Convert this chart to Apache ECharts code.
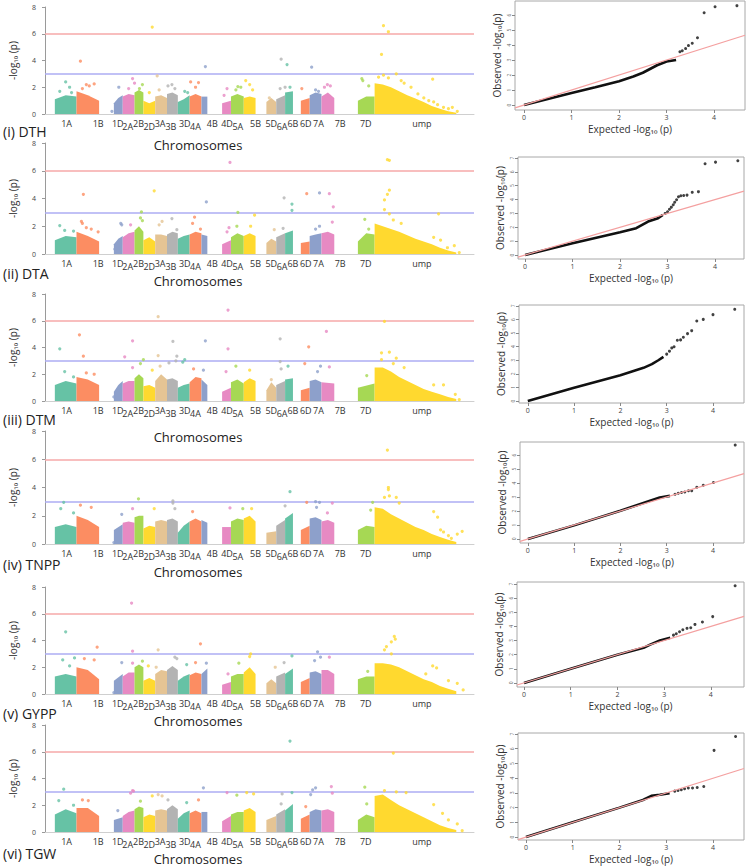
<!DOCTYPE html>
<html><head><meta charset="utf-8">
<script src="https://cdn.jsdelivr.net/npm/echarts@6/dist/echarts.min.js"></script>
<style>html,body{margin:0;padding:0;background:#fff}#c{width:746px;height:867px}</style>
</head><body><div id="c"></div>
<script>
// ---------- shared data ----------
const chromosomes = ['1A','1B','1D','2A','2B','2D','3A','3B','3D','4A','4B','4D','5A','5B','5D','6A','6B','6D','7A','7B','7D','ump'];
const chromStart = [10,32,70,79,91,100,112,124,135,147,159,180,189,202,225,235,244,260,269,281,318,335];
const chromEnd   = [32,55,79,91,100,112,124,135,147,159,165,189,202,214,235,244,252,269,281,294,335,418];
const labelPos   = [22,54,74,84,95,106,117,128,142,153,170,185,196,214,230,241,252,265,278,300,326,383];
const labelLow   = [0,0,0,1,0,1,0,1,0,1,0,0,1,0,0,1,0,0,0,0,0,0];
const yTicksM = [0,2,4,6,8];
const qqXTicks = [0,1,2,3,4];
const qqYTicks = [0,1,2,3,4,5,6,7];
const thresholds = [6,3];
const traitNames = ['(i) DTH','(ii) DTA','(iii) DTM','(iv) TNPP','(v) GYPP','(vi) TGW'];

// ---------- (i) DTH ----------
const DTH_body = [[1.1,1.4,1.3],[1.7,1.4,1.0],[0.8,1.2,1.4],[1.3,1.5,1.4],[1.6,1.8,1.6],[1.0,0.8,1.0],[1.3,1.4,1.2],[1.5,1.6,1.4],[0.9,1.1,1.4],[1.3,1.5,1.3],[1.3,1.3],[0.8,1.0],[1.3,1.5,1.3],[1.2,1.3,1.2],[0.9,1.2,0.9],[1.1,1.4],[1.6,1.7],[1.0,1.2],[1.4,1.6,1.5],[1.3,1.6,1.2],[1.0,1.3,1.3],[2.3,2.2,2.0,1.7,1.4,1.15,0.9,0.6,0.4,0.2,0.1]];
const DTH_points = [[21,2.4],[25,2.0],[15,1.7],[27,1.6],[36,3.95],[42,2.2],[50,2.25],[45,2.1],[38,1.9],[75,2.0],[68,0.2],[89,2.65],[85,1.9],[91,2.3],[99,2.2],[96,1.9],[109,6.5],[106,1.6],[114,2.85],[116,1.8],[129,2.2],[125,2.1],[132,1.9],[142,1.7],[145,1.6],[148,2.4],[156,2.35],[153,2.0],[163,3.55],[185,1.9],[182,1.4],[199,2.0],[194,1.8],[196,2.05],[204,2.5],[208,2.2],[211,1.8],[228,1.2],[240,4.1],[239,1.9],[246,3.7],[244,2.0],[249,2.0],[261,1.9],[271,3.5],[275,1.8],[278,1.7],[287,2.2],[284,2.0],[290,2.1],[322,2.65],[323,2.5],[329,2.1],[344,6.6],[349,6.15],[342,4.45],[357,3.0],[344,2.9],[339,2.75],[349,2.7],[394,2.6],[362,2.5],[365,2.3],[372,2.0],[379,1.5],[385,1.2],[390,1.0],[395,0.9],[399,0.7],[405,0.5],[410,0.4],[414,0.5],[419,0.2]];
const DTH_qqCurve = [[0,0],[0.5,0.4],[1,0.8],[1.5,1.18],[2,1.58],[2.3,1.9],[2.5,2.15],[2.8,2.65],[3.0,2.9],[3.2,3.0]];
const DTH_qqTail = [[3.28,3.55],[3.33,3.62],[3.4,3.76],[3.46,3.96],[3.54,4.12],[3.65,4.48],[3.79,6.15],[4.02,6.55],[4.48,6.62]];

// ---------- (ii) DTA ----------
const DTA_body = [[1.0,1.3,1.2],[1.6,1.3,0.9],[0.7,1.1,1.3],[1.2,1.5,1.6],[1.7,2.0,1.6],[1.0,1.2,0.9],[1.4,1.4,1.3],[1.4,1.6,1.5],[1.1,1.3,1.4],[1.4,1.6,1.5],[1.4,1.3],[0.7,1.0],[1.2,1.5,1.3],[1.3,1.5,1.3],[0.8,1.1,0.9],[1.2,1.5],[1.5,1.7],[0.8,0.9],[1.3,1.4,1.5],[1.5,1.6,1.4],[0.9,1.5,1.4],[2.2,2.0,1.8,1.6,1.35,1.1,0.9,0.7,0.45,0.25,0.1]];
const DTA_points = [[15,2.05],[20,1.7],[29,1.65],[39,4.3],[37,2.35],[38,2.2],[42,1.9],[47,1.8],[54,1.6],[71,0.35],[77,2.2],[78,2.1],[87,2.1],[98,3.03],[97,2.6],[99,2.4],[111,4.55],[119,2.35],[116,2.1],[129,2.55],[134,1.75],[152,2.65],[150,2.2],[158,1.8],[164,3.75],[188,6.6],[187,1.9],[185,1.6],[196,3.0],[195,2.0],[213,2.8],[209,2.0],[233,1.75],[243,4.05],[242,1.85],[251,3.6],[251,3.15],[266,4.35],[279,4.4],[275,1.8],[279,2.0],[289,4.35],[293,3.4],[292,2.3],[325,2.5],[329,1.8],[348,6.8],[350,6.75],[350,4.6],[348,4.3],[345,3.9],[345,3.2],[350,2.9],[400,2.9],[354,2.45],[362,2.2],[395,1.2],[402,1.0],[409,0.45],[416,0.6],[421,0.1]];
const DTA_qqCurve = [[0,0],[1,0.84],[2,1.64],[2.34,1.93],[2.59,2.41],[2.8,2.65],[2.9,2.89]];
const DTA_qqTail = [[2.95,3.0],[3.0,3.12],[3.04,3.3],[3.08,3.45],[3.12,3.62],[3.15,3.8],[3.19,3.98],[3.23,4.2],[3.28,4.27],[3.34,4.29],[3.41,4.32],[3.52,4.52],[3.65,4.57],[3.79,6.58],[4.01,6.7],[4.48,6.8]];

// ---------- (iii) DTM ----------
const DTM_body = [[1.2,1.5,1.3],[1.8,1.6,1.2],[0.7,1.2,1.5],[1.3,1.5,1.5],[1.7,2.0,1.7],[1.1,1.2,1.0],[1.5,2.0,1.6],[1.6,1.7,1.5],[1.0,1.2,1.3],[1.4,1.8,1.7],[1.6,1.2],[0.7,1.0],[1.4,1.6,1.3],[1.4,1.7,1.5],[0.8,1.4,1.0],[1.2,1.5],[1.6,1.7],[0.8,1.0],[1.5,1.6,1.4],[1.4,1.3],[1.0,1.3],[2.5,2.5,2.2,1.8,1.5,1.2,0.9,0.7,0.5,0.3,0.15]];
const DTM_points = [[15,3.9],[20,2.2],[29,1.8],[35,4.95],[39,3.35],[42,2.1],[50,2.0],[81,3.3],[70,0.3],[89,4.5],[89,2.5],[100,3.1],[97,2.8],[109,2.3],[115,6.3],[115,3.4],[117,2.6],[130,4.45],[126,2.85],[134,3.35],[133,3.0],[142,3.1],[140,2.9],[151,2.4],[163,4.5],[161,2.3],[186,6.8],[186,3.9],[184,2.2],[194,2.6],[208,2.3],[230,1.6],[239,4.65],[239,2.95],[240,2.4],[247,2.6],[268,4.05],[264,2.8],[277,2.2],[280,2.6],[286,5.2],[289,2.55],[327,1.9],[345,5.95],[350,3.65],[342,3.6],[357,3.2],[342,3.1],[354,2.8],[365,2.5],[395,1.2],[405,1.2],[417,0.5],[421,0.1]];
const DTM_qqCurve = [[0,0],[1,0.98],[2,1.9],[2.5,2.44],[2.68,2.71],[2.82,3.0],[2.93,3.25]];
const DTM_qqTail = [[3.0,3.45],[3.06,3.67],[3.11,3.91],[3.16,3.99],[3.23,4.47],[3.3,4.5],[3.36,4.69],[3.45,4.96],[3.54,5.18],[3.65,5.89],[3.79,6.01],[4.0,6.36],[4.47,6.75]];

// ---------- (iv) TNPP ----------
const TNPP_body = [[1.2,1.4,1.2],[2.0,1.7,1.2],[1.0,1.4],[1.5,1.6,1.5],[1.9,2.0,2.0],[1.1,1.3,1.2],[1.6,1.7,1.6],[1.7,1.8,1.6],[0.8,1.3,1.6],[1.6,1.8,1.6],[1.7,1.5],[1.2,1.2],[1.6,1.8,1.7],[1.8,2.0,1.6],[0.8,0.9],[1.3,1.7],[1.8,2.2],[1.0,1.3],[1.8,1.9,1.7],[1.6,1.7,1.5],[1.0,1.3,1.2],[2.6,2.5,2.1,1.8,1.5,1.2,1.0,0.7,0.5,0.3,0.15]];
const TNPP_points = [[19,2.95],[16,2.5],[29,2.2],[36,2.75],[47,2.6],[70,0.1],[78,2.1],[89,2.5],[95,3.2],[111,2.5],[130,3.05],[130,2.9],[132,2.5],[150,2.3],[188,2.55],[201,2.5],[210,2.5],[244,2.7],[249,3.7],[266,2.95],[275,3.0],[279,2.95],[276,2.6],[292,2.9],[287,2.2],[333,2.95],[331,2.4],[348,6.65],[349,4.0],[349,3.85],[350,3.4],[345,3.3],[357,3.3],[360,2.9],[395,2.3],[399,1.9],[402,1.0],[405,0.85],[410,0.6],[413,0.4],[419,0.7],[424,0.9]];
const TNPP_qqCurve = [[0,0],[1,0.97],[2,2.01],[2.64,2.73],[2.85,2.96],[3.07,3.08]];
const TNPP_qqTail = [[3.18,3.2],[3.25,3.27],[3.32,3.32],[3.39,3.36],[3.47,3.44],[3.54,3.44],[3.65,3.7],[3.79,3.84],[4.01,4.03],[4.48,6.71]];

// ---------- (v) GYPP ----------
const GYPP_body = [[1.3,1.5,1.3],[2.0,1.8,1.1],[1.0,1.5],[1.3,1.6,1.6],[2.0,2.2,2.0],[1.0,1.2,1.0],[1.5,1.8,1.7],[1.8,2.1,1.8],[1.0,1.3,1.5],[1.4,1.6,1.5],[1.5,1.9],[0.7,0.9],[1.3,1.5,1.5],[1.6,2.0,1.5],[0.8,1.1,0.8],[1.3,1.6],[1.5,1.9],[0.9,1.2],[1.6,1.7,1.5],[1.8,1.8,1.5],[1.1,1.3,1.3],[2.3,2.3,2.2,2.0,1.7,1.4,1.1,0.9,0.6,0.4,0.2]];
const GYPP_points = [[21,4.65],[30,2.7],[18,2.55],[25,2.1],[53,3.5],[40,2.65],[50,2.55],[78,2.35],[70,0.1],[88,6.8],[89,3.2],[89,2.3],[99,2.45],[105,2.1],[115,3.3],[113,2.0],[132,2.75],[134,2.65],[144,2.2],[158,3.75],[153,2.35],[164,2.3],[186,1.5],[197,2.3],[209,3.0],[208,2.8],[234,2.0],[243,2.35],[251,2.85],[277,3.15],[280,2.75],[274,2.5],[289,2.75],[328,1.7],[355,4.3],[356,4.1],[352,3.9],[347,3.55],[345,3.3],[352,3.0],[394,2.1],[398,1.95],[387,1.5],[410,1.0],[419,0.8],[425,0.3]];
const GYPP_qqCurve = [[0,0],[1,1],[2,2],[2.56,2.48],[2.7,2.71],[2.91,3.0],[3.13,3.19]];
const GYPP_qqTail = [[3.2,3.38],[3.26,3.48],[3.33,3.62],[3.4,3.76],[3.49,3.86],[3.57,3.9],[3.66,4.14],[3.82,4.31],[4.04,4.69],[4.52,6.88]];

// ---------- (vi) TGW ----------
const TGW_body = [[1.3,1.7,1.4],[1.8,1.8,1.2],[0.9,1.1],[1.2,1.5,1.6],[1.7,1.9,1.8],[1.1,1.3,1.2],[1.6,1.7,1.6],[1.7,2.0,1.7],[1.0,1.4,1.6],[1.4,1.6,1.4],[1.5,1.5],[0.8,1.2],[1.3,1.5,1.5],[1.6,1.8,1.5],[0.9,1.2],[1.3,1.7],[1.6,2.1],[1.0,1.3],[1.5,1.7,1.6],[1.6,1.7,1.5],[0.9,1.3,1.1],[2.7,2.8,2.4,2.0,1.7,1.4,1.1,0.8,0.5,0.3,0.15]];
const TGW_points = [[19,3.2],[14,2.35],[29,2.0],[38,2.4],[44,2.35],[74,1.6],[89,3.1],[87,2.9],[90,3.05],[97,2.3],[109,2.7],[115,2.8],[119,2.7],[125,2.4],[144,2.2],[156,2.4],[161,3.3],[185,2.95],[195,2.75],[205,2.95],[212,2.85],[241,2.85],[240,2.1],[249,6.8],[251,2.95],[265,1.9],[275,3.3],[272,3.15],[270,2.8],[291,3.4],[292,2.9],[325,3.35],[327,2.1],[354,5.9],[345,3.1],[357,3.0],[367,2.95],[395,2.05],[404,1.4],[410,0.9],[419,0.6],[424,0.1]];
const TGW_qqCurve = [[0,0],[1,1.0],[2,2.0],[2.5,2.52],[2.68,2.8],[2.86,2.87],[3.07,2.98]];
const TGW_qqTail = [[3.18,3.12],[3.25,3.17],[3.32,3.21],[3.39,3.28],[3.47,3.33],[3.56,3.33],[3.66,3.37],[3.8,3.44],[4.02,5.89],[4.48,6.83]];

// ---------- layout ----------
const rows = [
  {body:DTH_body, pts:DTH_points, curve:DTH_qqCurve, tail:DTH_qqTail},
  {body:DTA_body, pts:DTA_points, curve:DTA_qqCurve, tail:DTA_qqTail},
  {body:DTM_body, pts:DTM_points, curve:DTM_qqCurve, tail:DTM_qqTail},
  {body:TNPP_body, pts:TNPP_points, curve:TNPP_qqCurve, tail:TNPP_qqTail},
  {body:GYPP_body, pts:GYPP_points, curve:GYPP_qqCurve, tail:GYPP_qqTail},
  {body:TGW_body, pts:TGW_points, curve:TGW_qqCurve, tail:TGW_qqTail}
];
const mTop = [7,143,294,431,587,725];
const mBot = [114,254,401,544,694,832];
const traitY = [133,275,421,566,715,855];
const chromTitleY = [145,281,437,572,721,859];
const qqBox = [[515,745,1,110],[518,744,157,259],[519,744,305,403],[520,744,442,543],[517,744,582,687],[518,744,733,840]];
const qqXR = [[-0.19,4.65],[-0.15,4.61],[-0.19,4.67],[-0.17,4.67],[-0.15,4.71],[-0.17,4.66]];
const qqYR = [[-0.33,6.93],[-0.29,7.07],[-0.15,7.07],[-0.29,6.93],[-0.29,7.14],[-0.2,7.07]];

const palette = ['#66C2A5','#FC8D62','#8DA0CB','#E78AC3','#A6D854','#FFD92F','#E5C494','#B3B3B3'];
const FONT = '"Open Sans", "Liberation Sans", sans-serif';

function chromIndexAt(x){
  let best = 0, bd = Infinity;
  for (let i=0;i<chromosomes.length;i++){
    if (x>=chromStart[i] && x<=chromEnd[i]) return i;
    const d = Math.min(Math.abs(x-chromStart[i]), Math.abs(x-chromEnd[i]));
    if (d<bd){bd=d;best=i;}
  }
  return best;
}

const grids=[], xAxes=[], yAxes=[], series=[], graphics=[];
const normalIdx = labelLow.map((v,i)=>v?null:i).filter(v=>v!==null);
const lowIdx = labelLow.map((v,i)=>v?i:null).filter(v=>v!==null);
function labelFmt(v){ const i = labelPos.indexOf(Math.round(v)); return i>=0?chromosomes[i]:''; }

rows.forEach((row,r)=>{
  // Manhattan grid
  const gM = grids.length;
  grids.push({left:38, width:436, top:mTop[r], height:mBot[r]-mTop[r]});
  const xM = xAxes.length;
  xAxes.push({type:'value', gridIndex:gM, position:'bottom', offset:0, min:0, max:436,
    axisLine:{show:true, onZero:false, lineStyle:{color:'#cfcfcf', width:1}}, axisTick:{show:false}, splitLine:{show:false},
    axisLabel:{customValues: normalIdx.map(i=>labelPos[i]), formatter: labelFmt, fontSize:9, color:'#333', margin:5, fontFamily:FONT, hideOverlap:false}});
  xAxes.push({type:'value', gridIndex:gM, position:'bottom', offset:0, min:0, max:436,
    axisLine:{show:false, onZero:false}, axisTick:{show:false}, splitLine:{show:false},
    axisLabel:{customValues: lowIdx.map(i=>labelPos[i]), formatter: labelFmt, fontSize:9, color:'#333', margin:8, fontFamily:FONT, hideOverlap:false}});
  const yM = yAxes.length;
  yAxes.push({type:'value', gridIndex:gM, min:0, max:8, interval:2,
    axisLine:{show:true, lineStyle:{color:'#9a9a9a'}}, axisTick:{show:true, length:3, lineStyle:{color:'#9a9a9a'}}, splitLine:{show:false},
    axisLabel:{customValues: yTicksM, fontSize:7, color:'#444', margin:9, fontFamily:FONT},
    name:'-log\u2081\u2080 (p)', nameLocation:'middle', nameGap:27, nameTextStyle:{fontSize:10, color:'#333', fontFamily:FONT}});
  const prof = row.body;
  series.push({type:'custom', xAxisIndex:xM, yAxisIndex:yM, clip:true, silent:true, z:2,
    data: chromosomes.map((c,i)=>[chromStart[i], chromEnd[i], i]),
    renderItem:(params, api)=>{
      const i = api.value(2), x0 = api.value(0), x1 = api.value(1);
      const p = prof[i], n = p.length;
      const pts = [api.coord([x0,0])];
      p.forEach((h,k)=>{ const x = n===1?(x0+x1)/2 : x0+(x1-x0)*k/(n-1); pts.push(api.coord([x,h])); });
      pts.push(api.coord([x1,0]));
      return {type:'polygon', shape:{points:pts}, style:{fill:palette[i%8]}};
    }});
  series.push({type:'scatter', xAxisIndex:xM, yAxisIndex:yM, symbol:'circle', symbolSize:3.2, z:3, silent:true,
    data: row.pts,
    itemStyle:{color: p => palette[chromIndexAt(p.value[0])%8]},
    markLine:{silent:true, symbol:'none', label:{show:false}, z:1,
      data:[{yAxis:thresholds[0], lineStyle:{color:'#f6a9a9', width:1.6, type:'solid'}},
            {yAxis:thresholds[1], lineStyle:{color:'#adadf3', width:1.6, type:'solid'}}]}});

  // QQ grid
  const b = qqBox[r];
  const gQ = grids.length;
  grids.push({left:b[0], width:b[1]-b[0], top:b[2], height:b[3]-b[2], show:true, borderColor:'#a8a8a8', borderWidth:1, backgroundColor:'transparent'});
  const xQ = xAxes.length;
  xAxes.push({type:'value', gridIndex:gQ, position:'bottom', min:qqXR[r][0], max:qqXR[r][1],
    axisLine:{show:false, onZero:false}, splitLine:{show:false},
    axisTick:{show:true, customValues:qqXTicks, length:3, lineStyle:{color:'#888'}},
    axisLabel:{customValues:qqXTicks, fontSize:7, color:'#444', margin:4, fontFamily:FONT},
    name:'Expected -log\u2081\u2080 (p)', nameLocation:'middle', nameGap:14, nameTextStyle:{fontSize:10, color:'#333', fontFamily:FONT}});
  const yQ = yAxes.length;
  const yt = qqYTicks.filter(v=>v>=qqYR[r][0] && v<=qqYR[r][1]);
  yAxes.push({type:'value', gridIndex:gQ, min:qqYR[r][0], max:qqYR[r][1],
    axisLine:{show:false, onZero:false}, splitLine:{show:false},
    axisTick:{show:true, customValues:yt, length:3, lineStyle:{color:'#888'}},
    axisLabel:{customValues:yt, fontSize:5, color:'#666', margin:4, rotate:90, fontFamily:FONT},
    name:'Observed -log\u2081\u2080(p)', nameLocation:'middle', nameGap:13, nameTextStyle:{fontSize:10, color:'#333', fontFamily:FONT}});
  series.push({type:'line', xAxisIndex:xQ, yAxisIndex:yQ, silent:true, symbol:'none', data:[], z:1,
    markLine:{silent:true, symbol:'none', label:{show:false},
      data:[[{coord:[qqXR[r][0],qqXR[r][0]]},{coord:[qqXR[r][1],qqXR[r][1]]}]],
      lineStyle:{color:'#f4a0a0', width:1.2, type:'solid'}}});
  series.push({type:'line', xAxisIndex:xQ, yAxisIndex:yQ, silent:true, symbol:'none', data:row.curve, z:3,
    lineStyle:{color:'#111', width:2.6}});
  series.push({type:'scatter', xAxisIndex:xQ, yAxisIndex:yQ, silent:true, symbolSize:3, data:row.tail, z:3,
    itemStyle:{color:'#111'}});

  graphics.push({type:'text', left:3, top:traitY[r]-9, style:{text:traitNames[r], font:'14px "Open Sans", sans-serif', fill:'#222'}});
  graphics.push({type:'text', x:198, y:chromTitleY[r], style:{text:'Chromosomes', font:'13px "Open Sans", sans-serif', fill:'#222', textAlign:'center', textVerticalAlign:'middle'}});
});

const chart = echarts.init(document.getElementById('c'), null, {renderer:'svg', width:746, height:867});
chart.setOption({animation:false, backgroundColor:'#fff', grid:grids, xAxis:xAxes, yAxis:yAxes, series:series, graphic:graphics});
</script></body></html>
